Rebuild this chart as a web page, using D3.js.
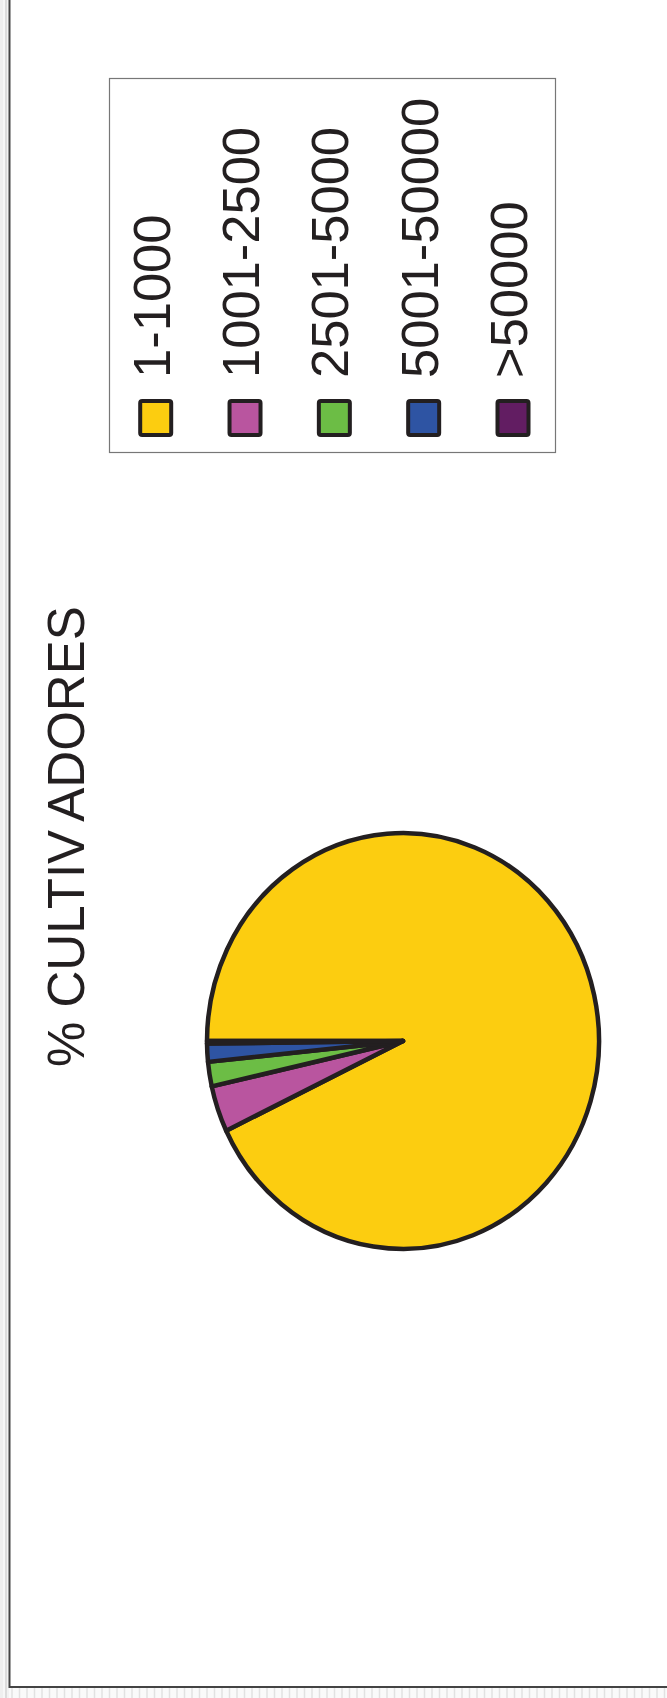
<!DOCTYPE html>
<html>
<head>
<meta charset="utf-8">
<script src="https://cdn.jsdelivr.net/npm/d3@7"></script>
<style>
  body { margin: 0; background: #fff; }
  text { font-family: "Liberation Sans", Arial, sans-serif; fill: #231f20; }
</style>
</head>
<body>
<div id="chart"></div>
<script>
// data (percent of growers per size class)
const categories = ["1-1000", "1001-2500", "2501-5000", "5001-50000", ">50000"];
const shares = [92.9, 3.6, 1.9, 1.4, 0.2];
const colors = ["#fccd10", "#b9559f", "#6cbd45", "#2e54a3", "#621d62"];
const title = "% CULTIVADORES";

const width = 667, height = 1698;

const svg = d3.select("#chart")
    .append("svg")
    .attr("width", width)
    .attr("height", height);

// page frame: light strips on the left and below, dark edge lines
const strips = [[0, 3, "#efefef"], [3, 2, "#f7f7f7"], [5, 2, "#dcdcdc"], [7, 2, "#f2f2f2"]];
svg.selectAll("rect.strip")
    .data(strips)
    .join("rect")
    .attr("class", "strip")
    .attr("x", d => d[0]).attr("y", 0)
    .attr("width", d => d[1]).attr("height", height)
    .attr("fill", d => d[2]);

svg.append("rect")
    .attr("x", 9).attr("y", 1688)
    .attr("width", width - 9).attr("height", 10)
    .attr("fill", "#fafafa");
svg.selectAll("line.hatch")
    .data(d3.range(12, width, 7.5))
    .join("line")
    .attr("class", "hatch")
    .attr("x1", d => d).attr("x2", d => d)
    .attr("y1", 1688).attr("y2", height)
    .attr("stroke", "#e2e2e2")
    .attr("stroke-width", 1.5);

svg.append("path")
    .attr("d", `M9.5,0 V1687 H${width}`)
    .attr("fill", "none")
    .attr("stroke", "#444")
    .attr("stroke-width", 2);

// title, rotated (split so the gap before "ADORES" shows as in the print)
const t = svg.append("text")
    .attr("transform", "translate(84,1067) rotate(-90)")
    .attr("font-size", 51);
t.append("tspan").text(title.slice(0, 8));
t.append("tspan").attr("dx", 12).text(title.slice(8));

// pie (drawn rotated, slightly taller than wide)
const pie = d3.pie().sort(null).value(d => d);
const arc = d3.arc().innerRadius(0).outerRadius(196);

const gPie = svg.append("g")
    .attr("transform", "translate(403,1041) scale(1,1.061) rotate(-90)");

gPie.selectAll("path")
    .data(pie(shares))
    .join("path")
    .attr("d", arc)
    .attr("fill", (d, i) => colors[i])
    .attr("stroke", "#231f20")
    .attr("stroke-width", 4.5)
    .attr("stroke-linejoin", "round")
    .attr("vector-effect", "non-scaling-stroke");

// legend
svg.append("rect")
    .attr("x", 109.5).attr("y", 78.5)
    .attr("width", 446).attr("height", 374)
    .attr("fill", "none")
    .attr("stroke", "#777")
    .attr("stroke-width", 1.2);

const lx = d3.scalePoint()
    .domain(categories)
    .range([155.7, 513]);

const items = svg.selectAll("g.item")
    .data(categories)
    .join("g")
    .attr("class", "item");

items.append("rect")
    .attr("x", d => lx(d) - 15.5)
    .attr("y", 401)
    .attr("width", 31)
    .attr("height", 34)
    .attr("rx", 2)
    .attr("fill", (d, i) => colors[i])
    .attr("stroke", "#231f20")
    .attr("stroke-width", 4);

items.append("text")
    .attr("transform", d => `translate(${lx(d) + 14},378) rotate(-90)`)
    .attr("font-size", 52.5)
    .text(d => d);
</script>
</body>
</html>
